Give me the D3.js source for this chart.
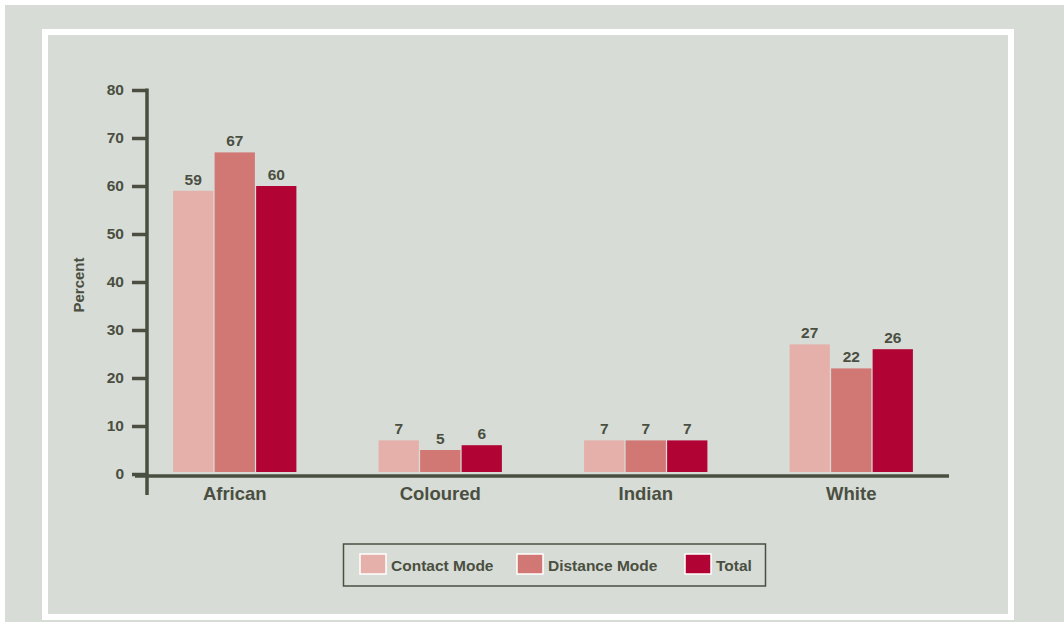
<!DOCTYPE html>
<html><head><meta charset="utf-8">
<script src="https://cdn.jsdelivr.net/npm/d3@7"></script>
<style>
html,body{margin:0;padding:0;background:#fff;}
svg{display:block;font-family:"Liberation Sans",Arial,Helvetica,sans-serif;}
</style></head>
<body>
<svg id="c" width="1064" height="625"></svg>
<script>
const categories = ["African","Coloured","Indian","White"];
const seriesNames = ["Contact Mode","Distance Mode","Total"];
const contactMode = [59,7,7,27];
const distanceMode = [67,5,7,22];
const total = [60,6,7,26];
const yTicks = [0,10,20,30,40,50,60,70,80];
const colors = ["#e5b0a9","#d27874","#b10435"];
const seriesValues = [contactMode, distanceMode, total];
const ink = "#4a4f41";

const svg = d3.select("#c");
svg.append("rect").attr("x",5).attr("y",5).attr("width",1059).attr("height",617).attr("fill","#d7dcd6");
svg.append("rect").attr("x",45).attr("y",32).attr("width",966).attr("height",585)
  .attr("fill","none").attr("stroke","#fff").attr("stroke-width",6);

const y = d3.scaleLinear().domain([0,80]).range([474,90]);
const x0 = d3.scaleBand().domain(categories).range([132,954]).paddingInner(0.4).paddingOuter(0.2);
const x1 = d3.scaleBand().domain(seriesNames).range([0,x0.bandwidth()]).paddingInner(0.03);

// bars
const g = svg.append("g");
categories.forEach((cat,ci)=>{
  seriesNames.forEach((s,si)=>{
    const v = seriesValues[si][ci];
    const bx = x0(cat)+x1(s);
    g.append("rect").attr("x",bx).attr("y",y(v)).attr("width",x1.bandwidth())
      .attr("height",y(0)-2-y(v)).attr("fill",colors[si]);
    g.append("text").attr("x",bx+x1.bandwidth()/2).attr("y",y(v)-6)
      .attr("text-anchor","middle").attr("font-size",15.5).attr("font-weight","bold")
      .attr("fill",ink).text(v);
  });
});

// y axis
const ya = svg.append("g").attr("transform","translate(147,0)")
  .call(d3.axisLeft(y).tickValues(yTicks).tickSize(15).tickPadding(8).tickSizeOuter(0));
ya.select(".domain").remove();
ya.selectAll(".tick line").attr("stroke",ink).attr("stroke-width",3.5);
ya.selectAll(".tick text").attr("fill",ink).attr("font-size",15.5).attr("font-weight","bold")
  .attr("font-family","Liberation Sans, Arial, sans-serif");
svg.append("line").attr("x1",147).attr("x2",147).attr("y1",y(80)-1.5).attr("y2",495)
  .attr("stroke",ink).attr("stroke-width",3.5);

// x axis
const xa = svg.append("g").attr("transform",`translate(0,${y(0)+2})`)
  .call(d3.axisBottom(x0).tickSize(0).tickPadding(11));
xa.select(".domain").remove();
xa.selectAll(".tick text").attr("fill",ink).attr("font-size",18.5).attr("font-weight","bold")
  .attr("font-family","Liberation Sans, Arial, sans-serif");
svg.append("line").attr("x1",135).attr("x2",949).attr("y1",y(0)+2).attr("y2",y(0)+2)
  .attr("stroke",ink).attr("stroke-width",3.5);

svg.append("text").attr("transform","translate(84,285) rotate(-90)")
  .attr("text-anchor","middle").attr("font-size",15).attr("font-weight","bold")
  .attr("fill",ink).text("Percent");

// legend
svg.append("rect").attr("x",343.5).attr("y",544).attr("width",422).attr("height",42)
  .attr("fill","none").attr("stroke",ink).attr("stroke-width",1.5);
const legX = [360,517,685];
seriesNames.forEach((s,i)=>{
  svg.append("rect").attr("x",legX[i]).attr("y",554).attr("width",26).attr("height",20)
    .attr("fill",colors[i]).attr("stroke","#fff").attr("stroke-width",1.5);
  svg.append("text").attr("x",legX[i]+31).attr("y",571).attr("font-size",15.5)
    .attr("font-weight","bold").attr("fill",ink).text(s);
});
</script>
</body></html>
